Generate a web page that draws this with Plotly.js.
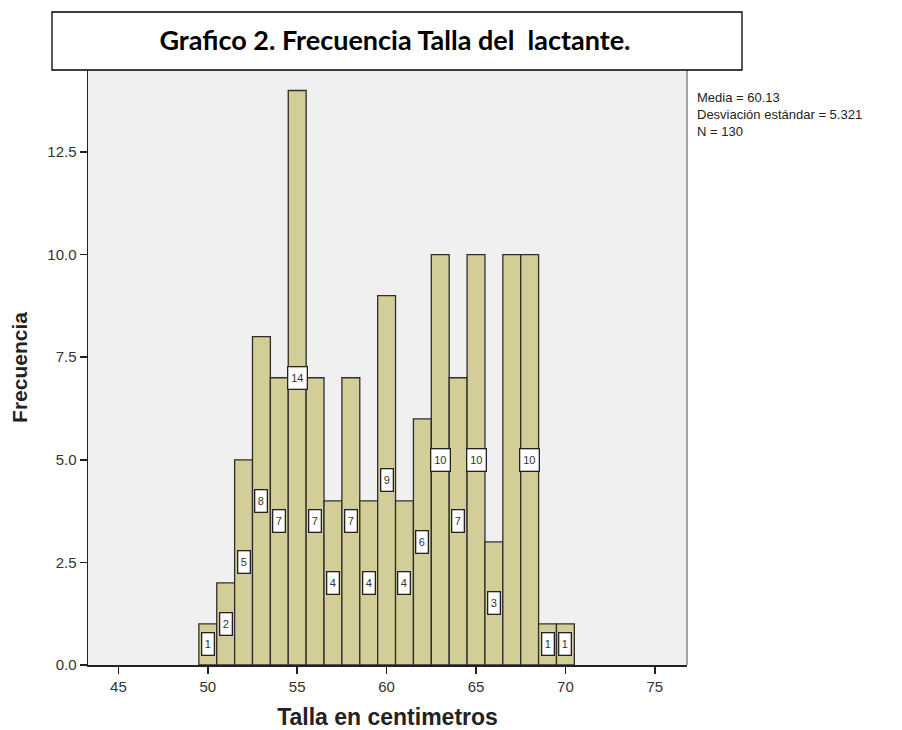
<!DOCTYPE html>
<html>
<head>
<meta charset="utf-8">
<script src="https://cdn.plot.ly/plotly-3.0.1.min.js"></script>
<style>html,body{margin:0;padding:0;background:#fff;}#chart{width:902px;height:730px;}</style>
</head>
<body>
<div id="chart"></div>
<script>
const tallas = [50,51,52,53,54,55,56,57,58,59,60,61,62,63,64,65,66,67,68,69,70];
const frecuencias = [1,2,5,8,7,14,7,4,7,4,9,4,6,10,7,10,3,10,10,1,1];
// bar whose count label is not shown in the reference
const tallasSinEtiqueta = [67];
const xTicks = [45,50,55,60,65,70,75];
const yTicks = [0,2.5,5,7.5,10,12.5];
const yTickLabels = ['0.0','2.5','5.0','7.5','10.0','12.5'];
const statsText = ['Media = 60.13','Desviación estándar = 5.321','N = 130'];

const FONT = 'Liberation Sans, Arial, sans-serif';

const trace = {
  type: 'bar',
  x: tallas,
  y: frecuencias,
  width: 1,
  marker: {color: '#d3ce98', line: {color: '#2e2e2e', width: 1.3}},
  hoverinfo: 'x+y'
};

const annotations = [];
tallas.forEach((t, i) => {
  if (tallasSinEtiqueta.includes(t)) return;
  const txt = String(frecuencias[i]);
  annotations.push({
    x: t, y: frecuencias[i] / 2, xref: 'x', yref: 'y',
    text: txt, showarrow: false,
    font: {family: FONT, size: 11, color: '#333'},
    width: txt.length > 1 ? 16 : 9, height: 19,
    bgcolor: '#ffffff', bordercolor: '#222', borderwidth: 1.3, borderpad: 1
  });
});

annotations.push({
  xref: 'paper', yref: 'paper', x: (695-88)/599, y: (665-88)/595,
  xanchor: 'left', yanchor: 'top', align: 'left', showarrow: false,
  text: statsText.join('<br>'),
  font: {family: FONT, size: 13, color: '#222'}
});

const layout = {
  width: 902, height: 730,
  margin: {l: 88, r: 215, t: 70, b: 65, pad: 0},
  paper_bgcolor: '#ffffff',
  plot_bgcolor: '#f0f0f0',
  showlegend: false,
  bargap: 0,
  title: {
    text: '<b>Grafico 2. Frecuencia Talla del  lactante.</b>',
    x: 395/902, xanchor: 'center', y: 1 - 41/730, yanchor: 'middle',
    font: {family: 'Lato, Open Sans, sans-serif', size: 27, color: '#000'}
  },
  xaxis: {
    range: [43.3, 76.8],
    tickvals: xTicks, ticktext: xTicks.map(String),
    ticks: 'outside', ticklen: 7, tickwidth: 1.5, tickcolor: '#222',
    showgrid: false, zeroline: false,
    showline: true, linecolor: '#222', linewidth: 1.5,
    tickfont: {family: FONT, size: 15, color: '#333'},
    title: {text: '<b>Talla en centimetros</b>', standoff: 18,
      font: {family: FONT, size: 23, color: '#222'}}
  },
  yaxis: {
    range: [0, 14.5],
    tickvals: yTicks, ticktext: yTickLabels,
    ticks: 'outside', ticklen: 7, tickwidth: 1.5, tickcolor: '#222',
    showgrid: false, zeroline: false,
    showline: true, linecolor: '#222', linewidth: 1.5,
    tickfont: {family: FONT, size: 15, color: '#333'},
    title: {text: '<b>Frecuencia</b>', standoff: 14,
      font: {family: FONT, size: 21, color: '#222'}}
  },
  shapes: [
    {type: 'line', xref: 'paper', yref: 'paper', x0: 1, x1: 1, y0: 0, y1: 1,
     line: {color: '#888', width: 1.5}},
    {type: 'rect', xref: 'paper', yref: 'paper',
     x0: (52-88)/599, x1: (742-88)/599, y0: (665-70)/595, y1: (665-12)/595,
     fillcolor: '#ffffff', line: {color: '#000', width: 1.3}, layer: 'above'}
  ],
  annotations: annotations
};

Plotly.newPlot('chart', [trace], layout, {displayModeBar: false, staticPlot: true});
</script>
</body>
</html>
